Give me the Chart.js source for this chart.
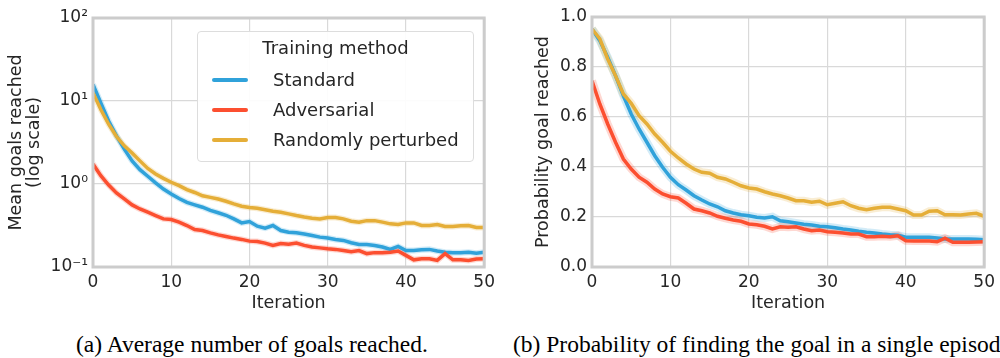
<!DOCTYPE html>
<html>
<head>
<meta charset="utf-8">
<script src="https://cdn.jsdelivr.net/npm/chart.js@4/dist/chart.umd.min.js"></script>
<style>
  html, body { margin: 0; padding: 0; background: #fff; }
  body { width: 1000px; height: 358px; position: relative; overflow: hidden; font-family: "DejaVu Sans", sans-serif; }
  .panel { position: absolute; top: 0; width: 500px; height: 320px; }
  .legend {
    position: absolute; left: 197px; top: 31px; width: 275px; height: 129px;
    background: rgba(255,255,255,0.9); border: 1px solid #dddddd; border-radius: 4px;
    color: #262626; font-size: 18px;
  }
  .legend .title { position: absolute; left: 0; right: 0; top: 5px; text-align: center; }
  .legend .row { position: absolute; left: 14px; height: 22px; line-height: 22px; }
  .legend .swatch { position: absolute; left: 0; top: 9px; width: 36px; height: 4px; border-radius: 2px; }
  .legend .label { position: absolute; left: 61px; white-space: nowrap; }
  .caption { position: absolute; top: 333px; font-family: "Liberation Serif", "Times New Roman", serif; font-size: 23.5px; line-height: 23px; color: #000; white-space: nowrap; }
</style>
</head>
<body>
<div class="panel" style="left:0"><canvas id="goalsChart" width="500" height="320"></canvas>
  <div class="legend">
    <div class="title">Training method</div>
    <div class="row" style="top:37px"><div class="swatch" style="background:#30a2da"></div><div class="label">Standard</div></div>
    <div class="row" style="top:67px"><div class="swatch" style="background:#fc4f30"></div><div class="label">Adversarial</div></div>
    <div class="row" style="top:97px"><div class="swatch" style="background:#e5ae38"></div><div class="label">Randomly perturbed</div></div>
  </div>
</div>
<div class="panel" style="left:500px"><canvas id="probChart" width="500" height="320"></canvas></div>
<div class="caption" style="left:76px">(a) Average number of goals reached.</div>
<div class="caption" style="left:513px">(b) Probability of finding the goal in a single episode.</div>

<script>
// データ
const iterations = [0,1,2,3,4,5,6,7,8,9,10,11,12,13,14,15,16,17,18,19,20,21,22,23,24,25,26,27,28,29,30,31,32,33,34,35,36,37,38,39,40,41,42,43,44,45,46,47,48,49,50];
const methods = ["Standard", "Adversarial", "Randomly perturbed"];

// (a) mean goals reached (log scale)
const standardGoals = [15.8,9.5,5.75,3.8,2.63,1.9,1.49,1.24,1.03,0.87,0.76,0.67,0.60,0.56,0.525,0.48,0.45,0.42,0.38,0.34,0.353,0.31,0.294,0.316,0.275,0.263,0.258,0.25,0.24,0.229,0.223,0.215,0.209,0.196,0.187,0.187,0.182,0.174,0.163,0.177,0.158,0.158,0.161,0.163,0.156,0.151,0.149,0.149,0.151,0.147,0.151];
const adversarialGoals = [1.74,1.26,0.97,0.78,0.66,0.56,0.50,0.457,0.417,0.38,0.373,0.347,0.316,0.283,0.275,0.258,0.244,0.233,0.223,0.215,0.205,0.203,0.194,0.182,0.192,0.188,0.194,0.182,0.174,0.17,0.166,0.163,0.158,0.153,0.158,0.145,0.149,0.149,0.151,0.156,0.138,0.122,0.126,0.126,0.12,0.145,0.122,0.122,0.12,0.125,0.126];
const randomGoals = [12.6,7.9,5.25,3.73,2.88,2.36,1.9,1.54,1.32,1.17,1.05,0.955,0.855,0.79,0.72,0.69,0.66,0.62,0.575,0.54,0.52,0.51,0.49,0.47,0.457,0.437,0.417,0.40,0.387,0.38,0.394,0.394,0.38,0.356,0.347,0.362,0.362,0.347,0.331,0.325,0.34,0.34,0.316,0.316,0.325,0.307,0.307,0.313,0.316,0.299,0.299];

// (b) probability goal reached
const standardProb = [0.952,0.905,0.839,0.765,0.685,0.612,0.552,0.499,0.445,0.399,0.359,0.329,0.308,0.285,0.268,0.252,0.241,0.225,0.216,0.209,0.205,0.199,0.196,0.201,0.185,0.181,0.176,0.171,0.168,0.163,0.161,0.157,0.152,0.148,0.143,0.139,0.136,0.132,0.129,0.127,0.119,0.119,0.119,0.119,0.116,0.112,0.112,0.112,0.112,0.111,0.109];
const adversarialProb = [0.745,0.652,0.572,0.499,0.432,0.392,0.359,0.339,0.312,0.292,0.281,0.276,0.255,0.232,0.225,0.216,0.203,0.195,0.188,0.183,0.172,0.169,0.163,0.152,0.161,0.159,0.161,0.152,0.145,0.148,0.141,0.139,0.136,0.132,0.132,0.121,0.121,0.123,0.121,0.125,0.105,0.104,0.104,0.104,0.101,0.115,0.099,0.099,0.099,0.100,0.101];
const randomProb = [0.952,0.912,0.832,0.765,0.692,0.655,0.605,0.572,0.532,0.499,0.463,0.436,0.412,0.392,0.379,0.375,0.359,0.352,0.339,0.325,0.316,0.312,0.301,0.292,0.285,0.276,0.265,0.265,0.259,0.263,0.249,0.255,0.261,0.245,0.235,0.229,0.235,0.239,0.239,0.232,0.225,0.208,0.208,0.223,0.225,0.209,0.209,0.208,0.212,0.215,0.203];

// 目盛り
const xTicks = [0, 10, 20, 30, 40, 50];
const logTicks = [0.1, 1, 10, 100];
const logTickLabels = ["10\u207B\u00B9", "10\u2070", "10\u00B9", "10\u00B2"];

const colors = ["#30a2da", "#fc4f30", "#e5ae38"];
const bandColors = ["rgba(48,162,218,0.22)", "rgba(252,79,48,0.22)", "rgba(229,174,56,0.22)"];
const TEXT = "#262626";
const FONT = "DejaVu Sans";

function points(values) {
  return iterations.map((x, i) => ({ x: x, y: values[i] }));
}

function makeDatasets(series, bandWidth) {
  // 上に描く順: Randomly perturbed, Adversarial, Standard, その下に帯
  const order = [2, 1, 0];
  const lines = order.map(i => ({
    label: methods[i], data: points(series[i]), borderColor: colors[i],
    borderWidth: 3.5, pointRadius: 0, tension: 0, fill: false
  }));
  const bands = order.map(i => ({
    label: methods[i] + " band", data: points(series[i]), borderColor: bandColors[i],
    borderWidth: bandWidth, pointRadius: 0, tension: 0, fill: false
  }));
  return lines.concat(bands);
}

// 枠線
const framePlugin = {
  id: "frame",
  afterDraw(chart) {
    const a = chart.chartArea, ctx = chart.ctx;
    ctx.save();
    ctx.strokeStyle = "#cccccc";
    ctx.lineWidth = 3;
    ctx.strokeRect(a.left, a.top, a.right - a.left, a.bottom - a.top);
    ctx.restore();
  }
};

function xAxis() {
  return {
    type: "linear", min: 0, max: 50,
    afterBuildTicks: s => { s.ticks = xTicks.map(v => ({ value: v })); },
    afterFit: s => { s.height = 53; },
    grid: { color: "#d9d9d9", lineWidth: 1.2, drawTicks: false },
    border: { display: false },
    ticks: { color: TEXT, padding: 5, font: { family: FONT, size: 17 }, maxRotation: 0 },
    title: { display: true, text: "Iteration", color: TEXT, font: { family: FONT, size: 17.5, lineHeight: 1.05 }, padding: { top: 0, bottom: 7 } }
  };
}

function baseOptions(yScale, pad) {
  return {
    responsive: false, animation: false,
    layout: { padding: pad },
    plugins: { legend: { display: false }, tooltip: { enabled: false } },
    scales: { x: xAxis(), y: yScale }
  };
}

new Chart(document.getElementById("goalsChart"), {
  type: "line",
  data: { datasets: makeDatasets([standardGoals, adversarialGoals, randomGoals], 6) },
  options: baseOptions({
    type: "logarithmic", min: 0.1, max: 100,
    afterBuildTicks: s => { s.ticks = logTicks.map(v => ({ value: v })); },
    afterFit: s => { s.width = 93; },
    grid: { color: "#d9d9d9", lineWidth: 1.2, drawTicks: false },
    border: { display: false },
    ticks: { color: TEXT, padding: 5, font: { family: FONT, size: 17 }, callback: (v, i) => logTickLabels[i] },
    title: { display: true, text: ["Mean goals reached", "(log scale)"], color: TEXT, font: { family: FONT, size: 17.5, lineHeight: 1.05 }, padding: { top: 7, bottom: 0 } }
  }, { top: 18, right: 15, left: 0, bottom: 0 }),
  plugins: [framePlugin]
});

new Chart(document.getElementById("probChart"), {
  type: "line",
  data: { datasets: makeDatasets([standardProb, adversarialProb, randomProb], 8) },
  options: baseOptions({
    type: "linear", min: 0, max: 1,
    afterFit: s => { s.width = 92; },
    grid: { color: "#d9d9d9", lineWidth: 1.2, drawTicks: false },
    border: { display: false },
    ticks: { color: TEXT, padding: 5, stepSize: 0.2, font: { family: FONT, size: 17 }, callback: v => v.toFixed(1) },
    title: { display: true, text: "Probability goal reached", color: TEXT, font: { family: FONT, size: 17.5, lineHeight: 1.05 }, padding: { top: 34, bottom: 0 } }
  }, { top: 17, right: 14, left: 0, bottom: 0 }),
  plugins: [framePlugin]
});
</script>
</body>
</html>
